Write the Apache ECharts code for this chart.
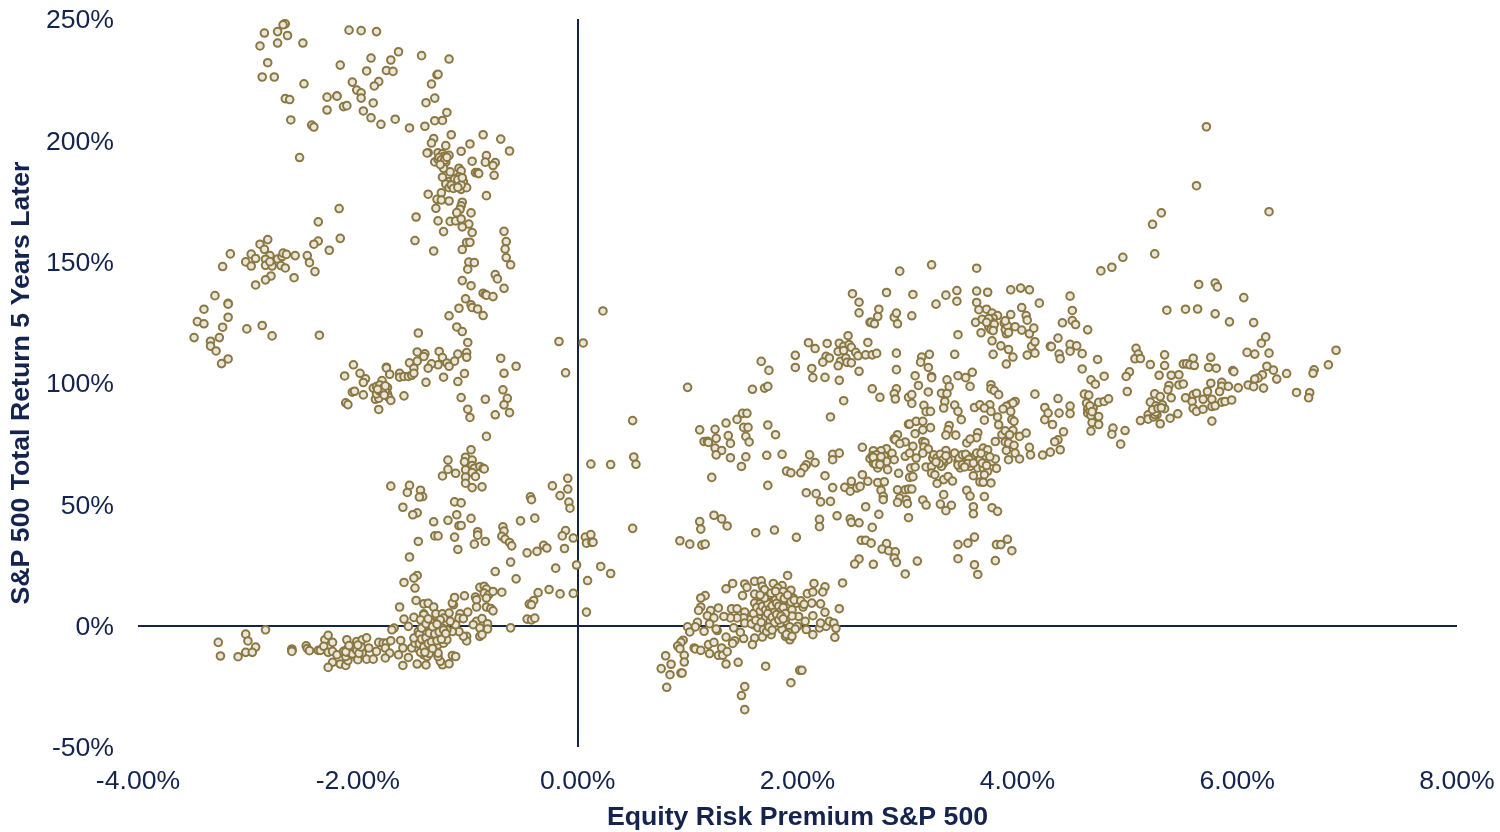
<!DOCTYPE html>
<html><head><meta charset="utf-8">
<style>html,body{margin:0;padding:0;background:#fff}#c{width:1500px;height:832px}</style>
<script src="https://cdn.jsdelivr.net/npm/echarts@6/dist/echarts.min.js"></script>
</head><body><div id="c"></div>
<script>
const xTicks=[-4,-2,0,2,4,6,8];
const yTicks=[-50,0,50,100,150,200,250];
const xTitle='Equity Risk Premium S&P 500';
const yTitle='S&P 500 Total Return 5 Years Later';
const upperLeft=[[-2.67,247.9],[-2.66,248],[-2.68,247.6],[-2.85,244.2],[-2.73,244.8],[-2.64,243.2],[-2.89,238.9],[-2.73,240.1],[-2.5,240.1],[-2.82,232],[-2.87,226.1],[-2.76,226.1],[-2.49,223.3],[-2.66,217.2],[-2.62,216.8],[-2.61,208.4],[-2.42,206.3],[-2.4,205.5],[-2.53,192.9],[-2.08,245.4],[-1.97,245.2],[-1.83,244.8],[-2.16,231],[-1.88,233.9],[-1.7,233.1],[-1.63,236.5],[-1.42,234.9],[-1.17,233.5],[-1.92,228.6],[-1.74,228.8],[-1.68,228.4],[-1.28,227],[-1.27,227.2],[-1.33,223.2],[-2.05,224],[-1.81,224.2],[-1.85,222.4],[-2.01,220.7],[-1.97,219.6],[-1.97,217.4],[-2.28,217.8],[-2.19,218.3],[-2.19,218.2],[-1.3,217.4],[-1.38,215.5],[-1.86,215.4],[-2.13,213.9],[-2.1,214.3],[-2.28,212.5],[-1.95,212.1],[-1.88,209.3],[-1.79,206.6],[-1.66,208.7],[-1.53,205.1],[-1.39,205.8],[-1.3,208.1],[-1.23,208.2],[-1.19,211.5]];
const upperColumn=[[-1.15,202.3],[-1.31,200.7],[-1.33,198.9],[-1.2,197.8],[-0.98,198.5],[-0.86,202.3],[-0.7,200.5],[-0.62,195.6],[-1.06,195.5],[-1.36,194.9],[-1.37,194.8],[-1.27,194.9],[-1.23,194.4],[-1.17,193.8],[-0.83,193.7],[-0.96,191.4],[-0.84,191],[-0.75,190.8],[-0.77,189.6],[-1.3,191.1],[-1.27,192.2],[-1.22,193.3],[-1.2,191],[-1.22,188.5],[-1.08,188.5],[-1.06,187.4],[-1.16,187],[-0.93,186.7],[-0.91,186.7],[-0.9,186.3],[-0.76,185.6],[-1.23,184.8],[-1.08,185],[-1.11,183.7],[-1.07,183],[-1.04,183],[-1.17,183],[-1.2,182],[-1.13,182.6],[-1.08,182.3],[-1.17,180.5],[-1.06,179.8],[-1.01,180.5],[-1.36,177.8],[-1.24,178.4],[-1.28,175.7],[-1.24,175.4],[-1.17,175],[-0.83,177.2],[-1.05,174.5],[-1.06,173],[-1.07,171.6],[-1.29,172],[-1.1,170.2],[-0.97,170.1],[-1.47,168.4],[-1.27,166.8],[-1.16,166.6],[-1.11,166.8],[-1.06,167.6],[-0.99,165.5],[-1.05,164.3],[-1.22,162.4],[-0.96,162],[-0.67,162.5],[-0.65,158.3],[-0.66,155.2],[-0.65,151.7],[-0.61,148.7],[-1.48,158.7],[-1.01,157.9],[-0.98,158],[-1.05,155],[-1.31,154.4],[-0.99,149.8],[-0.94,149.6],[-1,146.9],[-1.05,142.2],[-0.97,140.1],[-0.75,144.7],[-0.73,142.9],[-0.67,139],[-0.86,137],[-0.84,136.4],[-0.83,136.2],[-0.77,135.6],[-1.02,134.7],[-0.97,132.2],[-0.96,131.1],[-0.91,130.5],[-1.08,130.8],[-1.17,127.7],[-0.86,127.8]];
const midLeftGroup=[[-2.17,171.9],[-2.36,166.4],[-2.16,159.6],[-2.36,158.5],[-2.4,157.2],[-2.26,154.7],[-2.82,159.1],[-2.89,157.2],[-2.85,155.1],[-3.16,153.2],[-2.97,153.1],[-2.8,152.5],[-2.93,151.3],[-2.84,151],[-3.02,149.9],[-2.97,148.2],[-3.23,148],[-2.84,148.5],[-2.78,148.2],[-2.8,150],[-2.73,151.1],[-2.69,152.1],[-2.68,153.5],[-2.65,153],[-2.57,152.5],[-2.46,152.5],[-2.44,149.6],[-2.39,145.9],[-2.7,148.4],[-2.66,147.4],[-2.79,144.1],[-2.84,142.5],[-2.93,140.4],[-2.58,143.4],[-3.3,136],[-3.18,132.8],[-3.18,132.5],[-3.4,130.4],[-3.18,127.1],[-3.46,125.3],[-3.4,124.4],[-3.23,123],[-3.01,122.3],[-2.87,123.7],[-2.78,119.4],[-2.35,119.7],[-3.49,118.7],[-3.34,117.2],[-3.26,118.7],[-3.34,115.2],[-3.29,113.2],[-3.18,109.9],[-3.24,108]];
const hundredGroup=[[-1.45,120.6],[-1.1,123.1],[-1.05,121.2],[-1,116.7],[-0.17,117.1],[0.05,116.5],[-0.11,104.2],[0.23,129.7],[-1.46,112.8],[-1.39,112],[-1.4,110.9],[-1.46,109],[-1.53,108.3],[-1.26,113],[-1.23,110.5],[-1.09,111.9],[-1.01,112.5],[-1.01,110.6],[-1.12,109],[-1.19,108.2],[-1.17,106.9],[-1.27,107.5],[-1.33,107.9],[-1.36,106.1],[-1.49,106.1],[-2.04,107.5],[-1.74,106.5],[-1.74,106.2],[-1.98,104],[-2.12,102.9],[-1.93,101.7],[-1.95,100.2],[-1.78,101],[-1.71,103.6],[-1.62,104],[-1.62,102.4],[-1.58,102.7],[-1.54,102.7],[-1.51,103.2],[-1.49,104],[-1.38,100.3],[-1.22,102.4],[-1.09,100.6],[-1.03,103.9],[-0.7,110.2],[-0.56,106.9],[-0.67,104],[-0.68,97.2],[-0.64,93.7],[-0.67,91],[-0.62,87.8],[-0.75,86.9],[-0.84,93.3],[-1.06,94],[-1,89.2],[-0.98,85.8],[-1.86,97.9],[-1.83,98.5],[-1.8,99.2],[-1.77,97.9],[-1.73,98.1],[-1.81,96.5],[-1.77,96.1],[-1.73,95.5],[-1.84,93.3],[-1.81,93.7],[-1.72,94.1],[-1.7,92.8],[-1.81,89.1],[-1.58,94.7],[-1.95,95.1],[-2.05,96.2],[-2.03,96.6],[-2.11,91.8],[-2.09,91.1],[-1.79,97],[-1.75,96.8],[-1.83,95.5]];
const midColumn=[[-0.83,78],[-0.97,72.5],[-1.18,68.2],[-1.02,69.4],[-0.96,68.2],[-1.03,67.5],[-1.18,64.4],[-1.02,64.2],[-0.96,66],[-0.94,64.9],[-0.89,65.6],[-0.86,64.8],[-0.85,64.6],[-0.96,63.1],[-1.11,62.8],[-1.23,61.7],[-1.02,61.2],[-0.93,61.5],[-1.02,58.7],[-0.96,56.9],[-0.87,57.2],[0.12,66.6],[0.3,66.4],[-1.7,57.5],[-1.53,57.8],[-1.55,54.9],[-1.43,55.8],[-1.41,53.2],[-1.44,53],[-1.12,51],[-1.06,50.6],[-1.59,48.8],[-1.46,46.5],[-1.5,45.7],[-1.1,45.7],[-1.18,43.4],[-1.31,42.8],[-0.97,44.2],[-1.08,41.2],[-1.06,41.3],[-1.3,37],[-1.27,37],[-1.12,36.5],[-1.45,34.7],[-1.09,31.4],[-0.94,33.6],[-0.84,34.7],[-0.91,38.7],[-0.91,37.3],[-0.68,40.7],[-0.67,39],[-0.69,36.8],[-0.66,35.7],[-0.62,34.3],[-0.6,32.9],[-0.52,43.2],[-0.39,44.3],[-0.43,53.1],[-0.42,51.9],[-0.23,57.6],[-0.09,60.7],[-0.09,56.3],[-0.16,53.6],[-0.08,50.9],[-0.07,48.4],[-0.11,39.2],[-0.14,37],[-0.04,36.1],[0.07,36.5],[0.12,37.5],[0.08,34],[0.13,34.3],[0.14,34.4],[-0.12,31.8],[-0.31,33.1],[-0.28,32],[-0.37,30.6],[-0.46,30],[-0.61,26.2],[-0.75,22.3],[-0.56,19.3],[-0.2,23.7],[-0.01,25],[0.21,24.4],[0.3,21.5],[0.09,18.6],[-0.26,14.9],[-0.16,13.1],[-0.04,13.3],[-0.36,13.6],[-0.4,10.4],[-0.44,8.9],[-0.42,8.6],[0.08,5.6],[-0.46,2.7],[-0.42,2.4],[-0.39,3.1],[-0.61,-0.9],[-1.53,28.3],[-1.46,20.7],[-1.49,19.6],[-1.58,17.8],[-1.48,15.5]];
const lowerLeftRight=[[-1.47,10.4],[-1.62,7.7],[-1.4,9],[-1.36,9.2],[-1.31,7.7],[-1.58,2.7],[-1.49,3.4],[-1.4,4.9],[-1.4,4.5],[-1.29,4.9],[-1.23,4.9],[-1.17,5.2],[-1.13,8.6],[-1.14,9.3],[-1.12,11.6],[-1.03,12.3],[-0.93,11.8],[-0.92,10.7],[-0.92,7.7],[-1,5.6],[-1.07,4.9],[-1.08,3.1],[-1.04,2.9],[-0.89,15.8],[-0.85,16.2],[-0.83,15.1],[-0.85,13.4],[-0.81,12.7],[-0.77,14.1],[-0.69,13.8],[-0.83,11.4],[-0.83,7.7],[-0.79,7.1],[-0.77,6.1],[-0.92,1.8],[-0.87,2.9],[-0.95,0.4],[-0.89,-1],[-0.82,0.8],[-0.82,-1.4],[-0.89,-4.4],[-0.87,-3.7],[-1.01,-4.4],[-1.01,-6.3],[-1.04,-4.4],[-1.08,-2.4],[-1.54,-13.1],[-1.59,-16.4],[-1.46,-15.8],[-1.38,-16.2],[-1.23,-16.1],[-1.17,-15.7],[-1.25,-14.7],[-1.14,-12.3],[-1.11,-12.7],[-1.4,-12],[-1.37,-12.7],[-1.27,-12.7],[-1.27,-11.3],[-1.33,-10.6],[-1.37,-9.9],[-1.42,-9.2],[-1.46,-9.2],[-1.51,-9.2],[-1.34,-8.5],[-1.39,-7.9],[-1.27,-7.9],[-1.43,-6.5],[-1.48,-7.2],[-1.22,-7.2],[-1.19,-5.8],[-1.23,-4.4],[-1.3,-5.1],[-1.36,-5.8],[-1.4,-4.4],[-1.45,-4.4],[-1.49,-5.1],[-1.14,-2.4],[-1.19,-1.7],[-1.23,-1],[-1.28,-1],[-1.33,-1.7],[-1.4,-2.4],[-1.45,-2.4],[-1.11,0.4],[-1.16,1.8],[-1.22,3.1],[-1.25,2.4],[-1.3,1.1],[-1.34,1.8],[-1.4,0.4],[-1.43,2.4],[-1.54,-0.3],[-1.67,-1],[-1.69,-1.7],[-1.42,-10.5],[-1.38,-9],[-1.41,-8],[-1.35,-11.5],[-1.44,-7.5],[-1.4,-6.5],[-1.37,-6],[-1.43,-11]];
const lowerLeftTail=[[-3.27,-6.9],[-3.25,-12.5],[-3.09,-12.8],[-3.02,-3.5],[-3,-6.3],[-2.93,-8.8],[-3.02,-11],[-2.96,-11],[-2.84,-1.7],[-2.6,-9.6],[-2.6,-10.2],[-2.6,-10.6],[-2.47,-8.3],[-2.46,-9.4],[-2.44,-10.3],[-2.36,-10.2],[-2.34,-10.2],[-2.3,-5.8],[-2.27,-4],[-2.31,-8.5],[-2.23,-6.9],[-2.27,-11],[-2.23,-10.6],[-2.19,-12],[-2.23,-15.1],[-2.27,-17.2],[-2.16,-15.8],[-2.11,-16.4],[-2.09,-14.4],[-2.13,-10.6],[-2.1,-9.9],[-2.07,-9.2],[-2.04,-8.5],[-2.1,-5.8],[-2.01,-6.5],[-1.96,-5.8],[-1.92,-5],[-2.04,-10.6],[-1.99,-9.9],[-1.96,-11.3],[-2.07,-12],[-2.11,-12.7],[-2.01,-12.7],[-2,-14],[-1.92,-13.8],[-1.86,-13.8],[-1.9,-9.2],[-1.83,-10.6],[-1.81,-6.9],[-1.77,-7.2],[-1.74,-7.2],[-1.7,-6.2],[-1.75,-9.2],[-1.71,-11.3],[-1.75,-13.3],[-1.61,-6.1],[-1.59,-9.2],[-1.63,-12],[-2.06,-10.5],[-2.02,-11],[-2.09,-11],[-2.05,-9.5]];
const wedgeGroup=[[0.5,84.5],[0.51,69.5],[0.53,66.5],[0.5,40.1],[1.45,85],[1.5,87.5],[1.54,87.5],[1.35,83.5],[1.11,80.7],[1.25,80.9],[1.51,81.7],[1.55,81.7],[1.73,82.7],[1.8,78.7],[1.37,78.3],[1.53,78],[1.56,75.7],[1.26,77.2],[1.15,75.9],[1.18,76],[1.19,75.5],[1.39,75.1],[1.25,73.2],[1.31,72.2],[1.26,70.4],[1.39,69.2],[1.53,69.6],[1.49,65.6],[1.72,70.2],[1.86,70.6],[2.11,70.4],[2.32,70.6],[2.32,68.4],[2.38,71.1],[2.16,67.2],[2.08,66.3],[2.06,65.1],[2.03,63],[1.9,63.7],[1.94,63],[1.22,61.1],[1.73,57.8],[1.11,42.9],[1.12,39.8],[1.24,45.5],[1.31,44],[1.36,41.1],[1.62,38.3],[1.79,39.4],[1.99,36.4],[0.93,35],[1.02,33.6],[1.13,33.2],[1.16,33.6],[1,98.2],[1.67,108.9],[1.74,105.2],[1.59,97.4],[1.7,97.9],[1.73,98.6]];
const upperMiddle=[[2.93,146.1],[3.22,148.7],[3.63,147.3],[2.5,136.8],[2.81,137.3],[3.05,136.5],[2.56,133.3],[3.26,132.5],[3.35,136.2],[3.45,138.1],[3.45,133.7],[3.63,137.9],[3.73,137.4],[3.94,138.4],[4.03,139.1],[4.11,138.4],[4.2,132.9],[3.63,133.2],[3.65,130.2],[3.72,130.4],[3.77,128.8],[3.82,127.8],[3.94,128.2],[4.04,131.1],[4.08,127.8],[4.09,125.9],[3.62,125],[3.68,126.3],[3.75,126],[3.78,126.7],[3.77,124],[3.75,122.6],[3.78,123],[3.76,123.5],[3.74,124.5],[3.88,124.7],[3.9,123],[3.91,121.7],[3.9,120.3],[3.92,122.5],[3.98,123.2],[4.04,121.8],[4.11,120.3],[4.15,122.6],[3.67,120.7],[3.46,119.9],[3.77,117.4],[3.85,115.3],[3.92,113.8],[3.78,111.8],[3.96,110.7],[3.9,107.8],[4.09,111.5],[4.13,115.1],[4.16,117],[4.16,112.3],[4.3,115.1],[2.56,128.9],[2.74,130.4],[2.73,127.4],[2.66,125],[2.67,125],[2.7,124.4],[2.88,127.1],[2.9,128.8],[2.91,124.4],[3.04,127.7],[2.46,119.5],[2.1,116.6],[2.16,114.2],[2.27,116.3],[2.38,116.4],[2.42,115.1],[2.47,115.8],[2.37,113],[2.42,113.4],[2.49,114.7],[2.53,112.6],[2.55,111.2],[2.64,116.7],[2.62,111.6],[2.68,111.6],[2.72,112.2],[1.98,111.4],[2.26,111],[2.29,110.3],[2.23,108.6],[2.39,108.9],[2.44,110.3],[2.45,108.5],[2.49,108.3],[2.37,107.1],[1.98,106.4],[2.13,106],[2.14,102.2],[2.25,102.3],[2.38,101.1],[2.56,104.8],[2.9,112.3],[2.9,105.5],[3.13,110.7],[3.2,111.8],[3.12,108.6],[3.19,106.4],[3.43,111.8],[3.07,103],[3.22,102.7],[3.22,102.2],[3.46,103],[3.53,102.2],[3.59,104.4]];
const centerGroup=[[3.36,101.3],[3.38,98.5],[3.57,98.6],[3.1,99],[2.68,97.6],[2.75,94.1],[2.9,97.6],[2.88,95.6],[2.89,93.4],[3.01,94.1],[3.04,95.2],[3.04,91.6],[3.19,96.3],[3.31,95.8],[3.36,95.7],[3.34,92.4],[3.33,89.7],[2.42,92.7],[2.3,86],[3.76,99.3],[3.76,97.6],[3.79,96.9],[3.83,95.2],[4.16,95.4],[3.98,92.4],[3.93,91],[3.96,91.7],[3.9,90.4],[4.25,89.9],[3.87,89.3],[3.94,88.3],[3.61,89.9],[3.66,91],[3.75,91],[3.7,89.7],[3.76,88.3],[3.43,90.9],[3.46,88.3],[3.49,84.9],[3.15,90.8],[3.17,88.2],[3.21,88.3],[3.7,84.7],[3.82,86],[3.83,82.8],[4.25,84.9],[3.95,84.9],[3.97,84.2],[3.01,83],[3.02,83.1],[3.08,84.2],[3.14,84.2],[3.14,80.7],[3.21,81.6],[3.07,79.1],[3.38,82.5],[3.37,80.7],[3.35,78.5],[3.44,78.5],[3.54,75.3],[3.64,79.5],[3.63,77.5],[3.57,76.9],[3.8,75.9],[3.86,78.7],[3.89,80.3],[3.96,80.5],[3.93,78.7],[4.02,78],[4.08,79.4],[3.89,75.7],[3.92,75.3],[3.97,74.3],[4.11,73.5],[4.23,70.3],[3.9,72.2],[3.98,71.1],[3.92,68.4],[4.02,68.7],[4.12,70.4],[2.91,78.7],[2.88,77],[2.89,76.6],[2.98,75.7],[2.93,75],[3.05,73.9],[3.14,75.9],[3.16,75.5],[3.15,73.6],[3.19,72.8],[2.59,73.5],[2.69,72.1],[2.81,72.9],[2.76,72.1],[2.86,71],[2.67,69.1],[2.7,69.1],[2.73,69.1],[2.77,68.4],[2.66,68.8],[2.73,67.3],[2.69,67],[2.79,69.8],[2.81,67.7],[2.88,68.4],[2.73,65],[2.82,64.3],[2.98,69.8],[3.02,71.1],[3.08,69.1],[3.14,71.1],[3.03,65],[3.07,65.4],[3.17,65.4],[3.22,65.6],[3.35,72.2],[3.25,69.8],[3.28,69.8],[3.31,69.8],[3.34,69.1],[3.37,68.4],[3.27,68.4],[3.3,67.7],[3.33,67],[3.23,69.1],[3.31,65.6],[3.43,71.1],[3.46,67.7],[3.49,69.1],[3.52,69.8],[3.55,69.8],[3.48,67],[3.51,67.7],[3.54,68.4],[3.58,69.1],[3.48,65],[3.57,65.6],[3.63,71.1],[3.69,73.2],[3.73,72.5],[3.66,68.4],[3.72,68.4],[3.77,67.7],[3.8,68.7],[3.64,65],[3.69,65],[3.73,63.6],[3.81,64.8],[3.6,61.8],[3.7,62.2],[3.66,59.2],[3.69,59.1],[3.76,58.8],[3.22,62.9],[3.25,62.2],[3.33,60.2],[3.37,61.5],[3.41,59.6],[3.27,58.6],[3.33,54],[3.54,55.8],[3.57,53.4],[3.7,53.2],[2.92,62.8],[2.59,62.2],[2.64,59.5],[2.73,59],[2.79,59.3],[2.76,55.8],[2.78,53.3],[2.78,51.9],[2.49,59.5],[2.43,57],[2.48,55.4],[2.54,56.7],[2.57,57.4],[2.32,56.9],[2.25,61.8],[2.08,54.8],[2.17,54.4],[2.21,51],[2.3,51.2],[3.02,61.1],[3.05,61.4],[2.91,56],[2.98,56],[3.01,56.3],[3.04,56.3],[2.93,52.6],[2.91,50.8],[2.99,51.9],[3,50.3],[3.14,51.8],[3.17,49.7],[3.3,50.1],[3.4,49.6],[3.35,47.4],[3.6,49],[3.6,46.1],[3.77,48.6],[3.82,47.1],[2.62,49],[2.74,45.9],[3.01,44.5],[2.36,45.3],[2.2,43.8],[2.2,40.8],[2.48,44],[2.49,42.6],[2.56,42.4],[2.68,40.5],[3.5,68.5],[3.53,67],[3.29,68.5],[3.32,68.8],[2.71,68.2],[2.75,67.8]];
const lowerMiddle=[[2.58,35.2],[2.62,35.2],[2.67,34],[2.81,33.8],[2.77,31.6],[2.83,30.9],[2.89,30.4],[2.88,27.9],[2.9,26.1],[3.09,26.6],[2.56,27.5],[2.52,25.4],[2.69,25.3],[2.98,21.3],[3.46,33.4],[3.55,34],[3.61,36.5],[3.46,27.6],[3.61,25.1],[3.64,21.1],[3.8,26.8],[3.81,33.4],[3.85,33.4],[3.91,35.6],[3.95,30.9]];
const bottomCluster=[[1.91,20.7],[2.41,17.6],[1.41,17.4],[1.35,15.2],[1.52,17.2],[1.54,15.8],[1.5,12.4],[1.61,18.3],[1.67,18.5],[1.78,17.4],[1.68,16.2],[1.61,13],[1.7,14.8],[1.86,16.5],[1.82,15.5],[1.87,14.1],[1.94,14.6],[2.15,17.4],[2.25,16],[2.23,13.9],[2.09,13.2],[2.14,13.9],[1.16,12.4],[1.12,11.4],[1.12,7.7],[1.1,6.3],[1.21,6.2],[1.28,7.3],[1.4,6.9],[1.45,7],[1.18,4.1],[1.24,3.2],[1.52,5.6],[1.61,9.3],[1.67,10.7],[1.73,12.1],[1.8,10.7],[1.96,11.4],[1.99,9.3],[2.05,7.7],[2.13,9.3],[2.21,9],[2.38,7],[2.25,5.5],[2.14,4.1],[2.07,1.8],[2.01,3.8],[1.87,6.6],[1.72,7.3],[1.78,6.6],[1.67,5.2],[1.75,4.5],[1.83,3.8],[1.61,3.8],[1.57,2.5],[1.51,3.2],[1.45,3.2],[1.39,3.2],[1.33,3.8],[1.69,2.5],[1.75,2.5],[1.81,1.8],[1.89,1.8],[1.52,1.1],[1.6,0.4],[1.66,0.4],[1.72,0],[1.8,-0.3],[1.86,-1.6],[1.93,-0.5],[2,-0.3],[2.08,-1.6],[2.2,-0.9],[2.26,-0.3],[2.29,1.8],[2.33,1.1],[2.21,1.1],[2.35,-1.1],[2.34,-4.8],[2.14,-3.7],[1.93,-5.8],[1.89,-4.4],[1.76,-3.7],[1.68,-4.7],[1.61,-5.1],[1.59,-7.8],[1.51,-5.3],[1.48,-2.7],[1.42,-0.9],[1.43,-6.2],[1.41,-7.3],[1.35,-4.7],[1.27,-2],[1.26,-1.4],[1.15,-2.3],[1.09,1.4],[1.07,-0.5],[1,-0.5],[1.02,-2.6],[0.96,-6],[0.94,-6.9],[0.91,-8.4],[0.93,-9.5],[0.97,-12.2],[0.97,-15],[0.8,-12.4],[0.85,-15.9],[0.76,-17.7],[0.84,-20.2],[0.94,-19.5],[0.95,-19.5],[0.81,-25.4],[1.06,-9.2],[1.07,-9.6],[1.12,-10.2],[1.19,-7.8],[1.2,-11.5],[1.24,-6.9],[1.31,-9.2],[1.28,-12.2],[1.32,-12.2],[1.36,-10.7],[1.35,-15.8],[1.46,-15.1],[1.71,-16.7],[2.02,-18.4],[2.04,-18.4],[1.94,-23.5],[1.52,-25.1],[1.49,-28.8],[1.52,-34.6],[1.2,0.8],[1.66,9],[1.7,8],[1.74,9.5],[1.76,6],[1.79,8.5],[1.82,7],[1.85,9],[1.9,10],[1.92,8],[1.95,6.5],[1.7,5],[1.72,3.5],[1.78,4],[1.8,3],[1.65,3],[1.62,1.5],[1.7,1],[1.76,1],[1.84,1],[1.9,3.5],[1.95,4]];
const rightGroup=[[5.72,205.6],[5.63,181.3],[5.31,170.1],[5.23,165.4],[6.29,170.6],[4.96,151.8],[4.86,147.7],[4.76,146.2],[5.25,153.2],[5.65,140.6],[5.8,141.2],[5.82,139.6],[6.06,135.2],[5.36,130],[5.53,130.4],[5.64,130.5],[5.8,128.5],[5.93,125.2],[6.15,124.9],[6.26,119],[6.22,116.4],[6.09,112.6],[6.16,111.9],[6.29,112.3],[5.76,110.6],[5.6,110.2],[5.51,107.8],[5.54,107.9],[5.57,107.5],[5.61,107.2],[5.74,106.4],[5.81,106.1],[6.9,113.5],[6.83,107.5],[6.7,105.4],[6.69,104],[6.27,106.9],[6.33,105.3],[6.45,103.9],[6.36,101.6],[6.23,103.4],[6.19,102],[6.16,101.6],[6.1,99.2],[6.15,98.5],[6.24,97.9],[6.01,98],[5.96,105.1],[5.97,104.7],[6.54,96.1],[6.66,96],[6.65,93.9],[5.34,111.6],[5.34,107.2],[5.08,114.3],[5.1,111.9],[5.07,110],[5.12,110.1],[5.21,107.6],[5.29,103.2],[5.4,103.2],[5.47,103.4],[5.02,104.6],[4.99,102.7],[4.79,102.8],[4.67,101.3],[4.71,99.5],[4.59,105.8],[4.73,109.7],[5,96.5],[5.38,99],[5.37,97.2],[5.47,99.2],[5.51,99.6],[5.76,99.9],[5.73,96.5],[5.86,100.3],[5.86,98.6],[5.84,96.5],[5.92,98.6],[5.25,95.5],[5.3,94.4],[5.21,92.1],[5.4,93.9],[5.53,93.9],[5.6,95.1],[5.63,95.8],[5.69,93.3],[5.77,93.3],[5.59,92.4],[5.26,90.6],[5.32,91],[5.34,89.4],[5.6,89.6],[5.63,88.3],[5.69,89.2],[5.77,90.3],[5.8,90.6],[5.86,92.1],[5.89,92.4],[5.95,93],[5.77,84.3],[5.46,87.3],[5.39,85.5],[5.3,83.2],[5.24,87.6],[5.27,86.9],[5.22,86.2],[5.19,86.9],[5.19,85.1],[5.12,84.5],[4.61,95.4],[4.65,95],[4.37,93.6],[4.28,87.6],[4.32,82.9],[4.48,90.5],[4.48,87.4],[4.38,87.6],[4.63,91.7],[4.74,92],[4.79,92.4],[4.83,93.5],[4.64,89.2],[4.69,89.6],[4.64,87.6],[4.69,86.9],[4.74,86.2],[4.68,83.7],[4.74,82.9],[4.67,80.2],[4.87,81.4],[4.86,78.9],[4.98,80.4],[4.94,74.8],[4.42,79.9],[4.37,76.6],[4.34,75.8],[4.39,72.5],[4.3,71.5],[4.48,135.8],[4.5,129.9],[4.5,125.7],[4.53,124.1],[4.41,124.8],[4.64,121.9],[4.37,118.5],[4.31,115],[4.48,115.9],[4.54,115.3],[4.48,113.1],[4.59,112.1],[4.38,111.9],[4.39,110]];
const denseBottom=[[1.6,5],[1.63,7.5],[1.66,6],[1.68,8],[1.71,6.5],[1.73,9],[1.75,7],[1.77,8.2],[1.79,5.5],[1.81,9.2],[1.83,8],[1.85,6],[1.87,7.5],[1.89,5],[1.71,3.2],[1.73,5],[1.75,1.8],[1.77,3.4],[1.79,1.2],[1.81,4.6],[1.83,2.4],[1.85,4],[1.87,2.8],[1.58,0.8],[1.62,2.2],[1.64,-0.8],[1.67,1.4],[1.69,-1.6],[1.72,-2.4],[1.74,-0.6],[1.77,-1.8],[1.84,12],[1.88,11.2],[1.91,12.6],[1.94,9.8],[1.97,10.6],[1.7,11.4],[1.66,12.6],[1.76,13.4],[1.8,14.2],[2.03,10.2],[2.06,8.8],[1.92,-2.8],[1.9,-3.6],[1.95,-4.4],[1.98,-1.4]];
const denseLeft=[[-1.44,-3.5],[-1.42,-5.5],[-1.4,-8.8],[-1.39,-11],[-1.38,-5],[-1.36,-7.4],[-1.35,-3],[-1.33,-6.6],[-1.32,-9.4],[-1.3,-3.4],[-1.28,-6.2],[-1.26,-2.6],[-1.24,-5.6],[-1.22,-1.8],[-1.2,-3.2],[-1.42,-1],[-1.38,0.8],[-1.36,2.8],[-1.32,-0.4],[-1.28,0.6],[-2.09,-9.6],[-2.07,-10.8],[-2.05,-11.6],[-2.03,-9],[-2.01,-10.2],[-1.99,-11.4],[-1.97,-8.8],[-2.11,-10.8],[-2.08,-8.2],[-2,-8]];
const denseCenter=[[2.68,70],[2.7,68],[2.72,70.4],[2.74,68.6],[2.76,69.6],[2.69,69.4],[2.71,66.6],[2.75,66.4],[3.24,70.4],[3.27,69.2],[3.3,70.6],[3.32,68.2],[3.35,70],[3.29,66.8],[3.26,67.4],[3.47,69],[3.5,70.4],[3.53,70.6],[3.56,68.6],[3.46,66.2],[3.5,66.4],[3.55,66.8],[3.52,65.4],[3.6,67],[3.68,67],[3.71,70],[3.75,69.6],[3.67,71],[3.72,66]];
const denseUpper=[[3.74,123.2],[3.76,122],[3.77,125],[3.79,124.2],[3.74,126.6],[3.72,125],[3.78,121.6],[3.89,122],[3.91,123.6],[3.92,120.8],[3.89,125.6],[-1.12,184],[-1.1,182],[-1.09,183.8],[-1.06,181.6],[-1.05,184.6],[-1.15,181.6],[-1.13,180.2],[-1.09,180.6],[-1.26,193],[-1.24,192],[-1.21,191.8],[-1.19,193],[-1.25,190],[-1.8,96.6],[-1.78,97],[-1.76,95],[-1.82,97.4],[-1.75,98.8],[5.24,86],[5.25,87],[5.26,88],[5.23,89],[5.28,89.6],[5.31,89.8],[4.66,88.4],[4.66,90.6],[4.67,86.6],[4.68,88.2]];
const groups=[upperLeft,upperColumn,midLeftGroup,hundredGroup,midColumn,lowerLeftRight,lowerLeftTail,wedgeGroup,upperMiddle,centerGroup,lowerMiddle,bottomCluster,rightGroup,denseBottom,denseLeft,denseCenter,denseUpper];
const points=groups.flat();
const ink='#14244f', gold='#8a7742';
const chart=echarts.init(document.getElementById('c'),null,{renderer:'canvas'});
const font='"Liberation Sans",Arial,sans-serif';
chart.setOption({
  animation:false,
  backgroundColor:'#fff',
  grid:{left:138,right:43,top:19,bottom:85,containLabel:false,outerBoundsMode:'none'},
  xAxis:{type:'value',min:xTicks[0],max:xTicks[xTicks.length-1],interval:2,
    name:xTitle,nameLocation:'middle',nameGap:57,
    nameTextStyle:{color:ink,fontFamily:font,fontWeight:'bold',fontSize:26.7},
    axisLine:{show:false,onZero:false},axisTick:{show:false},splitLine:{show:false},
    axisLabel:{color:ink,fontFamily:font,fontSize:26.6,margin:21,hideOverlap:false,showMinLabel:true,showMaxLabel:true,formatter:v=>v.toFixed(2)+'%'}},
  yAxis:{type:'value',min:yTicks[0],max:yTicks[yTicks.length-1],interval:50,
    name:yTitle,nameLocation:'middle',nameGap:91,
    nameTextStyle:{color:ink,fontFamily:font,fontWeight:'bold',fontSize:26.7},
    axisLine:{show:false,onZero:false},axisTick:{show:false},splitLine:{show:false},
    axisLabel:{color:ink,fontFamily:font,fontSize:26.6,margin:24,hideOverlap:false,showMinLabel:true,showMaxLabel:true,verticalAlign:'top',lineHeight:4,formatter:v=>v+'%'}},
  series:[{type:'scatter',data:points,symbol:'circle',symbolSize:7.6,
    itemStyle:{color:'#e9e6da',borderColor:gold,borderWidth:2,opacity:1},
    silent:true,z:3,
    markLine:{silent:true,symbol:'none',label:{show:false},animation:false,z:2,
      lineStyle:{color:ink,width:2,type:'solid'},
      data:[{xAxis:0},{yAxis:0}]}}]
});
</script></body></html>
